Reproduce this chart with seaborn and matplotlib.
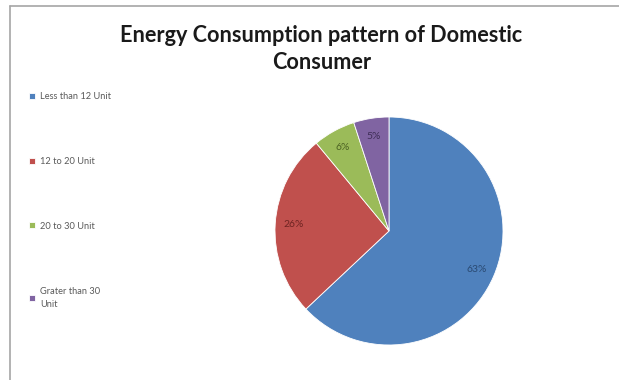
import matplotlib
matplotlib.use("Agg")
import matplotlib.pyplot as plt
from matplotlib.lines import Line2D
import seaborn as sns

categories = ["Less than 12 Unit", "12 to 20 Unit", "20 to 30 Unit", "Grater than 30\nUnit"]
values = [63, 26, 6, 5]
colors = ["#4F81BD", "#C0504D", "#9BBB59", "#8064A2"]
label_colors = ["#2a4a73", "#6e2422", "#4c6323", "#3f2e57"]
title = "Energy Consumption pattern of Domestic\nConsumer"

sns.set_theme(style="white")
plt.rcParams["font.family"] = ["Lato", "DejaVu Sans"]

fig = plt.figure(figsize=(6.19, 3.8), dpi=100)
fig.patch.set_facecolor("white")

ax = fig.add_axes([275 / 619, 35 / 380, 228 / 619, 228 / 380])
wedges, texts, autotexts = ax.pie(
    values,
    colors=sns.color_palette(colors),
    startangle=90,
    counterclock=False,
    autopct="%d%%",
    pctdistance=0.84,
    wedgeprops=dict(linewidth=0.6, edgecolor="white"),
    textprops=dict(fontsize=7.5),
)
for t, c in zip(autotexts, label_colors):
    t.set_color(c)
ax.set_xlim(-1, 1)
ax.set_ylim(-1, 1)
ax.set_aspect("equal")

fig.text(0.519, 1 - 25 / 380, title, ha="center", va="top", fontsize=15.6,
         fontweight="bold", color="#1a1a1a", linespacing=1.35)

leg = fig.legend(
    wedges, categories,
    loc="upper left", bbox_to_anchor=(29 / 619, 1 - 92 / 380),
    frameon=False, fontsize=6.7, labelcolor="#595959",
    handlelength=0.6, handleheight=0.6, handletextpad=0.6,
    labelspacing=6.0, borderaxespad=0, borderpad=0,
)
for t in leg.get_texts():
    t.set_linespacing(1.7)

# chart frame lines
fig.add_artist(Line2D([10 / 619, 1.0], [1 - 6 / 380, 1 - 6 / 380],
                      transform=fig.transFigure, color="#a6a6a6", linewidth=1.2))
fig.add_artist(Line2D([10 / 619, 10 / 619], [0, 1 - 6 / 380],
                      transform=fig.transFigure, color="#a6a6a6", linewidth=1.2))

fig.savefig("out.png", dpi=100)
